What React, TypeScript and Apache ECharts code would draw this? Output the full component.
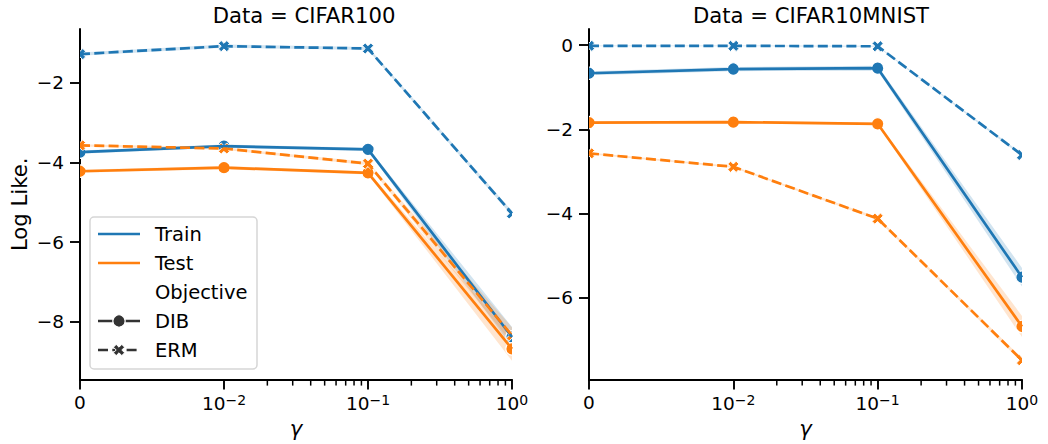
import React, { useEffect, useRef } from "react";
import * as echarts from "echarts";

// gamma values are placed on a symlog-like axis: 0, 1e-2, 1e-1, 1e0 -> positions 0..3
const X_POS = [0, 1, 2, 3];
const X_TICK_LABELS = ["0", "10{s|−2}", "10{s|−1}", "10{s|0}"];
const MINOR_TICKS = [2, 3, 4, 5, 6, 7, 8, 9]
  .map((k) => 1 + Math.log10(k))
  .concat([2, 3, 4, 5, 6, 7, 8, 9].map((k) => 2 + Math.log10(k)));

const PANEL_TITLES = ["Data = CIFAR100", "Data = CIFAR10MNIST"];

// CIFAR100
const C100_DIB_TRAIN = [-3.74, -3.59, -3.67, -8.38];
const C100_DIB_TEST = [-4.22, -4.13, -4.26, -8.68];
const C100_ERM_TRAIN = [-1.28, -1.08, -1.14, -5.28];
const C100_ERM_TEST = [-3.57, -3.65, -4.03, -8.34];
const C100_DIB_TRAIN_CI = [0.04, 0.04, 0.04, 0.25];
const C100_DIB_TEST_CI = [0.04, 0.04, 0.04, 0.3];
const C100_ERM_TRAIN_CI = [0.04, 0.04, 0.04, 0.06];
const C100_ERM_TEST_CI = [0.03, 0.03, 0.04, 0.2];

// CIFAR10MNIST
const CM_DIB_TRAIN = [-0.67, -0.57, -0.55, -5.51];
const CM_DIB_TEST = [-1.84, -1.83, -1.87, -6.68];
const CM_ERM_TRAIN = [-0.02, -0.02, -0.03, -2.61];
const CM_ERM_TEST = [-2.57, -2.89, -4.12, -7.48];
const CM_DIB_TRAIN_CI = [0.05, 0.05, 0.06, 0.22];
const CM_DIB_TEST_CI = [0.03, 0.03, 0.03, 0.25];
const CM_ERM_TRAIN_CI = [0.01, 0.01, 0.01, 0.03];
const CM_ERM_TEST_CI = [0.02, 0.02, 0.03, 0.05];

const Y_RANGES = [
  [-9.45, -0.65],
  [-7.94, 0.38],
];
const Y_TICKS = [
  [-8, -6, -4, -2],
  [-6, -4, -2, 0],
];

const BLUE = "#1f77b4";
const ORANGE = "#ff7f0e";
const DARK = "#333333";
const FONT = "DejaVu Sans";
const LW = 2.7;
const DASH = [10, 4.3];

// matplotlib filled "X" marker outline (unit half-size)
const X_SHAPE: number[][] = [
  [0.5, 0], [1, 0.5], [0.5, 1], [0, 0.5], [-0.5, 1], [-1, 0.5],
  [-0.5, 0], [-1, -0.5], [-0.5, -1], [0, -0.5], [0.5, -1], [1, -0.5],
];

type Line = { name: string; color: string; dashed: boolean; values: number[]; ci: number[] };

const PANELS: Line[][] = [
  [
    { name: "Train DIB", color: BLUE, dashed: false, values: C100_DIB_TRAIN, ci: C100_DIB_TRAIN_CI },
    { name: "Train ERM", color: BLUE, dashed: true, values: C100_ERM_TRAIN, ci: C100_ERM_TRAIN_CI },
    { name: "Test DIB", color: ORANGE, dashed: false, values: C100_DIB_TEST, ci: C100_DIB_TEST_CI },
    { name: "Test ERM", color: ORANGE, dashed: true, values: C100_ERM_TEST, ci: C100_ERM_TEST_CI },
  ],
  [
    { name: "Train DIB", color: BLUE, dashed: false, values: CM_DIB_TRAIN, ci: CM_DIB_TRAIN_CI },
    { name: "Train ERM", color: BLUE, dashed: true, values: CM_ERM_TRAIN, ci: CM_ERM_TRAIN_CI },
    { name: "Test DIB", color: ORANGE, dashed: false, values: CM_DIB_TEST, ci: CM_DIB_TEST_CI },
    { name: "Test ERM", color: ORANGE, dashed: true, values: CM_ERM_TEST, ci: CM_ERM_TEST_CI },
  ],
];

const fmtY = (v: number) => (v < 0 ? "−" + Math.abs(v) : String(v));

function xPolygon(cx: number, cy: number, r: number) {
  return X_SHAPE.map(([dx, dy]) => [cx + dx * r, cy + dy * r]);
}

export default function App() {
  const ref = useRef<HTMLDivElement>(null);
  useEffect(() => {
    if (!ref.current) return;
    const chart = echarts.init(ref.current, undefined, { renderer: "svg" });

    const grids = [
      { left: 80, top: 29, width: 432, height: 352 },
      { left: 589, top: 29, width: 433, height: 352 },
    ];
    const titleCenters = [299, 806];

    const xAxes = grids.map((_, i) => ({
      type: "value",
      gridIndex: i,
      min: 0,
      max: 3,
      interval: 1,
      name: "γ",
      nameLocation: "middle",
      nameGap: 37,
      nameTextStyle: { fontSize: 21.2, fontStyle: "italic", color: "#000", fontFamily: FONT },
      axisLine: { show: true, onZero: false, lineStyle: { color: "#000", width: 2 } },
      axisTick: { show: true, length: 10, lineStyle: { color: "#000", width: 1.9 } },
      splitLine: { show: false },
      axisLabel: {
        margin: 13,
        color: "#000",
        fontSize: 18.5,
        fontFamily: FONT,
        formatter: (v: number) => X_TICK_LABELS[Math.round(v)] ?? "",
        rich: {
          s: { fontSize: 14, verticalAlign: "top", color: "#000", fontFamily: FONT, padding: [0, 0, 8, 0] },
        },
      },
    }));

    const yAxes = grids.map((_, i) => ({
      type: "value",
      gridIndex: i,
      min: Y_RANGES[i][0],
      max: Y_RANGES[i][1],
      name: i === 0 ? "Log Like." : "",
      nameLocation: "middle",
      nameRotate: 90,
      nameGap: 50,
      nameTextStyle: { fontSize: 21.2, color: "#000", fontFamily: FONT },
      axisLine: { show: true, onZero: false, lineStyle: { color: "#000", width: 2 } },
      axisTick: { show: true, length: 10, customValues: Y_TICKS[i], lineStyle: { color: "#000", width: 1.9 } },
      splitLine: { show: false },
      axisLabel: {
        margin: 16,
        color: "#000",
        fontSize: 18.5,
        fontFamily: FONT,
        customValues: Y_TICKS[i],
        formatter: fmtY,
      },
    }));

    const series: any[] = [];
    PANELS.forEach((lines, pi) => {
      // CI bands
      lines.forEach((ln) => {
        const flat: number[] = [];
        X_POS.forEach((x, k) => {
          flat.push(x, ln.values[k] - ln.ci[k], ln.values[k] + ln.ci[k]);
        });
        const n = X_POS.length;
        series.push({
          type: "custom",
          name: ln.name + " band",
          xAxisIndex: pi,
          yAxisIndex: pi,
          z: 1,
          silent: true,
          clip: true,
          encode: {
            x: X_POS.map((_, k) => k * 3),
            y: X_POS.flatMap((_, k) => [k * 3 + 1, k * 3 + 2]),
          },
          data: [flat],
          renderItem: (params: any, api: any) => {
            const lo: number[][] = [];
            const hi: number[][] = [];
            for (let k = 0; k < n; k++) {
              lo.push(api.coord([api.value(k * 3), api.value(k * 3 + 1)]));
              hi.push(api.coord([api.value(k * 3), api.value(k * 3 + 2)]));
            }
            return {
              type: "polygon",
              shape: { points: lo.concat(hi.reverse()) },
              style: { fill: ln.color, opacity: 0.2 },
            };
          },
        });
      });
      // lines + markers
      lines.forEach((ln) => {
        const data = X_POS.map((x, k) => [x, ln.values[k]]);
        series.push({
          type: "line",
          name: ln.name,
          xAxisIndex: pi,
          yAxisIndex: pi,
          z: 2,
          clip: true,
          showSymbol: false,
          silent: true,
          data,
          lineStyle: { color: ln.color, width: LW, type: ln.dashed ? DASH : "solid" },
        });
        series.push({
          type: "custom",
          name: ln.name + " markers",
          xAxisIndex: pi,
          yAxisIndex: pi,
          z: 2,
          clip: true,
          silent: true,
          encode: { x: 0, y: 1 },
          data,
          renderItem: (params: any, api: any) => {
            const p = api.coord([api.value(0), api.value(1)]);
            if (ln.dashed) {
              return {
                type: "polygon",
                shape: { points: xPolygon(p[0], p[1], 5.6) },
                style: { fill: ln.color, stroke: "#fff", lineWidth: 1 },
              };
            }
            return {
              type: "circle",
              shape: { cx: p[0], cy: p[1], r: 6.2 },
              style: { fill: ln.color, stroke: "#fff", lineWidth: 1.2 },
            };
          },
        });
      });
      // minor ticks on the x axis
      series.push({
        type: "custom",
        name: "minor ticks " + pi,
        xAxisIndex: pi,
        yAxisIndex: pi,
        z: 3,
        clip: false,
        silent: true,
        encode: { x: 0, y: 1 },
        data: MINOR_TICKS.map((v) => [v, Y_RANGES[pi][0]]),
        renderItem: (params: any, api: any) => {
          const p = api.coord([api.value(0), api.value(1)]);
          return {
            type: "line",
            shape: { x1: p[0], y1: p[1], x2: p[0], y2: p[1] + 6 },
            style: { stroke: "#000", lineWidth: 1.5 },
          };
        },
      });
    });

    // legend (drawn with graphic elements)
    const LX = 90, LY = 217;
    const rowY = [234, 263, 292, 321, 350];
    const hx1 = 98, hx2 = 140, hc = 119, tx = 155;
    const legendText = ["Train", "Test", "Objective", "DIB", "ERM"];
    const graphic: any[] = [
      {
        type: "rect",
        z: 100,
        shape: { x: LX, y: LY, width: 167, height: 152, r: 4 },
        style: { fill: "rgba(255,255,255,0.8)", stroke: "#d6d6d6", lineWidth: 1.5 },
      },
      { type: "line", z: 101, shape: { x1: hx1, y1: rowY[0], x2: hx2, y2: rowY[0] }, style: { stroke: BLUE, lineWidth: LW } },
      { type: "line", z: 101, shape: { x1: hx1, y1: rowY[1], x2: hx2, y2: rowY[1] }, style: { stroke: ORANGE, lineWidth: LW } },
      { type: "line", z: 101, shape: { x1: hx1, y1: rowY[3], x2: hx2, y2: rowY[3] }, style: { stroke: DARK, lineWidth: LW } },
      { type: "circle", z: 102, shape: { cx: hc, cy: rowY[3], r: 6.2 }, style: { fill: DARK, stroke: "#fff", lineWidth: 1.2 } },
      { type: "line", z: 101, shape: { x1: hx1, y1: rowY[4], x2: hx2, y2: rowY[4] }, style: { stroke: DARK, lineWidth: LW, lineDash: DASH } },
      { type: "polygon", z: 102, shape: { points: xPolygon(hc, rowY[4], 5.6) }, style: { fill: DARK, stroke: "#fff", lineWidth: 1 } },
      ...legendText.map((t, i) => ({
        type: "text",
        z: 102,
        x: tx,
        y: rowY[i],
        style: { text: t, fill: "#000", fontSize: 19.5, fontFamily: FONT, verticalAlign: "middle", align: "left" },
      })),
    ];

    chart.setOption({
      animation: false,
      backgroundColor: "#fff",
      title: PANEL_TITLES.map((t, i) => ({
        text: t,
        left: titleCenters[i],
        top: 0,
        textAlign: "center",
        textStyle: { fontSize: 21.2, fontWeight: "normal", color: "#000", fontFamily: FONT },
      })),
      grid: grids,
      xAxis: xAxes,
      yAxis: yAxes,
      series,
      graphic,
    });
    return () => chart.dispose();
  }, []);
  return <div ref={ref} style={{ position: "absolute", left: 0, top: 0, width: 1048, height: 444 }} />;
}
